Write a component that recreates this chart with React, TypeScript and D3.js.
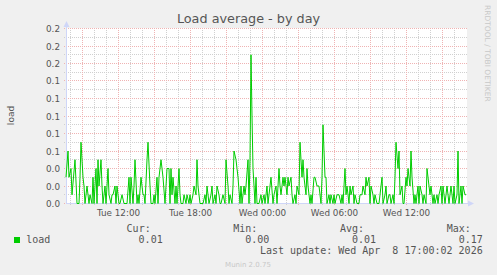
import React from 'react';
import * as d3 from 'd3';

const TITLE = 'Load average - by day';
const Y_LABEL = 'load';
const SERIES_NAME = 'load';
const WATERMARK = 'RRDTOOL / TOBI OETIKER';
const FOOTER = 'Munin 2.0.75';
const LAST_UPDATE = 'Last update: Wed Apr  8 17:00:02 2026';

const STAT_NAMES = ['Cur:', 'Min:', 'Avg:', 'Max:'];
const STAT_VALUES = ['0.01', '0.00', '0.01', '0.17'];

const Y_MAJOR = [0, 0.02, 0.04, 0.06, 0.08, 0.1, 0.12, 0.14, 0.16, 0.18, 0.2];
const Y_MINOR = [0.01, 0.03, 0.05, 0.07, 0.09, 0.11, 0.13, 0.15, 0.17, 0.19];
const X_LABEL_FORMAT = '%a %H:%M';

const START = new Date(2026, 3, 7, 7, 40, 0);
const END = new Date(2026, 3, 8, 17, 0, 0);
const STEP_MS = 5 * 60 * 1000;

// 5-minute sample index since START
const SAMPLE_INDEX = [
  0, 2, 3, 5, 6, 9, 11, 13, 14, 15, 17, 18, 19, 21, 23, 24, 26, 27, 28, 30, 31, 32, 33, 35, 36, 37,
  39, 40, 42, 43, 45, 46, 47, 49, 50, 51, 53, 54, 56, 58, 59, 61, 63, 64, 65, 67, 68, 69, 71, 72, 73, 75, 77, 78, 79,
  81, 82, 84, 85, 87, 88, 89, 91, 92, 93, 95, 96, 97, 99, 100, 101, 103, 104, 105, 106, 107, 109, 110, 111, 113, 114, 115, 117, 118, 120, 121, 123,
  124, 125, 127, 128, 130, 131, 132, 134, 135, 137, 139, 140, 141, 143, 145, 146, 147, 149, 150, 151, 153, 154, 155, 157, 159, 160, 162, 163,
  164, 166, 167, 168, 170, 171, 172, 174, 175, 176, 178, 179, 180, 182, 183, 184, 185, 186, 187, 189, 190, 191, 193, 195, 196, 198, 199, 201, 202, 203,
  205, 207, 208, 210, 211, 213, 214, 215, 217, 218, 219, 221, 222, 223, 225, 226, 227, 229, 230, 231, 233, 234, 236, 237, 238, 240, 241, 242, 244, 245, 246,
  248, 249, 251, 252, 253, 255, 256, 257, 259, 260, 261, 263, 264, 265, 267, 268, 269, 271, 273, 275, 276, 277, 279, 280, 281, 283, 284, 285, 287, 288, 289,
  291, 293, 294, 296, 297, 299, 300, 301, 303, 304, 305, 307, 308, 309, 311, 313, 314, 316, 317, 319, 320, 321, 323, 324, 325, 327, 328, 329, 330,
  332, 333, 334, 336, 337, 338, 340, 341, 342, 344, 345, 346, 348, 349, 350, 352, 353, 354, 356, 357, 358, 360, 361, 363, 364, 365, 367, 368, 369, 371, 372, 373,
  375, 376, 377, 379, 380, 381, 383, 384, 385, 387, 388, 389, 391, 392, 393, 395, 396, 397, 399, 400,
];

const LOAD = [
  0.03, 0.06, 0.03, 0.04, 0.01, 0.05, 0.0, 0.0, 0.03, 0.07, 0.03, 0.02, 0.0, 0.02, 0.0, 0.01, 0.0, 0.03, 0.0, 0.04, 0.0, 0.05, 0.02, 0.05, 0.02, 0.0,
  0.02, 0.0, 0.04, 0.01, 0.0, 0.01, 0.01, 0.02, 0.0, 0.02, 0.0, 0.0, 0.01, 0.0, 0.0, 0.0, 0.03, 0.0, 0.03, 0.0, 0.02, 0.05, 0.0, 0.01, 0.0, 0.03, 0.01, 0.01, 0.0,
  0.05, 0.07, 0.02, 0.0, 0.0, 0.01, 0.0, 0.03, 0.0, 0.03, 0.05, 0.04, 0.03, 0.0, 0.02, 0.04, 0.04, 0.0, 0.04, 0.01, 0.03, 0.0, 0.02, 0.0, 0.04, 0.01, 0.0, 0.0, 0.01, 0.0, 0.01, 0.0,
  0.01, 0.0, 0.01, 0.02, 0.01, 0.05, 0.02, 0.0, 0.0, 0.0, 0.01, 0.0, 0.02, 0.0, 0.01, 0.02, 0.0, 0.01, 0.0, 0.02, 0.01, 0.0, 0.0, 0.01, 0.0, 0.05, 0.02, 0.0,
  0.01, 0.0, 0.02, 0.06, 0.05, 0.04, 0.03, 0.0, 0.02, 0.0, 0.02, 0.01, 0.02, 0.05, 0.0, 0.05, 0.17, 0.1, 0.04, 0.0, 0.03, 0.0, 0.0, 0.01, 0.0, 0.01, 0.0, 0.02, 0.0, 0.01,
  0.03, 0.0, 0.01, 0.02, 0.0, 0.04, 0.02, 0.01, 0.03, 0.02, 0.03, 0.01, 0.03, 0.02, 0.03, 0.01, 0.0, 0.01, 0.0, 0.02, 0.01, 0.07, 0.03, 0.05, 0.03, 0.01, 0.04, 0.02, 0.0, 0.01, 0.0,
  0.03, 0.03, 0.02, 0.02, 0.02, 0.0, 0.03, 0.09, 0.03, 0.03, 0.0, 0.01, 0.0, 0.01, 0.0, 0.01, 0.0, 0.01, 0.01, 0.0, 0.01, 0.0, 0.04, 0.01, 0.02, 0.0, 0.02, 0.01, 0.02, 0.0, 0.01,
  0.0, 0.0, 0.01, 0.01, 0.02, 0.01, 0.03, 0.02, 0.03, 0.0, 0.02, 0.01, 0.0, 0.01, 0.0, 0.0, 0.01, 0.03, 0.0, 0.01, 0.02, 0.0, 0.01, 0.01, 0.0, 0.01, 0.0, 0.03, 0.07,
  0.04, 0.06, 0.01, 0.02, 0.0, 0.0, 0.03, 0.02, 0.04, 0.02, 0.06, 0.03, 0.0, 0.01, 0.0, 0.02, 0.0, 0.02, 0.01, 0.0, 0.01, 0.0, 0.04, 0.02, 0.01, 0.02, 0.0, 0.01, 0.0, 0.01, 0.0, 0.01,
  0.02, 0.0, 0.02, 0.0, 0.01, 0.02, 0.0, 0.01, 0.02, 0.0, 0.02, 0.0, 0.01, 0.06, 0.0, 0.02, 0.0, 0.02, 0.01, 0.01,
];

const W = 497;
const H = 275;
const PLOT = { left: 66, right: 466, top: 28, bottom: 203 };

const FONT_FG = '#555555';
const AXIS_COLOR = '#CFD6F8';
const LINE_COLOR = '#00CC00';
const SANS = 'DejaVu Sans, sans-serif';
const MONO = 'DejaVu Sans Mono, monospace';

export default function App() {
  const x = d3.scaleTime().domain([START, END]).range([PLOT.left, PLOT.right]);
  const y = d3.scaleLinear().domain([0, 0.2]).range([PLOT.bottom, PLOT.top]);
  const snap = (v: number) => Math.round(v) + 0.5;

  const pts: [Date, number][] = SAMPLE_INDEX.map((s, i) => [
    new Date(START.getTime() + s * STEP_MS),
    LOAD[i],
  ]);
  const line = d3
    .line<[Date, number]>()
    .x((d) => x(d[0]))
    .y((d) => y(d[1]) + 0.5);

  const hours = d3.timeHour.every(1)!.range(START, END);
  const major3 = d3.timeHour.every(3)!.range(START, END);
  const labels6 = d3.timeHour.every(6)!.range(START, END);
  const fmt = d3.timeFormat(X_LABEL_FORMAT);
  const yFmt = d3.format('.1f');

  const gx0 = PLOT.left - 2;
  const gx1 = PLOT.right + 1;

  return (
    <svg
      width={W}
      height={H}
      style={{ position: 'absolute', left: 0, top: 0, display: 'block' }}
    >
      <rect x={0} y={0} width={W} height={H} fill="#F0F0F0" />
      <rect
        x={PLOT.left}
        y={PLOT.top}
        width={PLOT.right - PLOT.left + 1}
        height={PLOT.bottom - PLOT.top}
        fill="#FFFFFF"
      />
      {/* minor grid */}
      <g stroke="#D0D0D0" strokeWidth={1} strokeDasharray="1,1" shapeRendering="crispEdges">
        {hours.map((t, i) => (
          <line key={'vm' + i} x1={snap(x(t))} x2={snap(x(t))} y1={PLOT.top} y2={PLOT.bottom + 2} />
        ))}
        {Y_MINOR.map((v, i) => (
          <line key={'hm' + i} x1={gx0} x2={gx1} y1={snap(y(v))} y2={snap(y(v))} />
        ))}
      </g>
      {/* major grid */}
      <g stroke="#EFB3B3" strokeWidth={1} strokeDasharray="1,1" shapeRendering="crispEdges">
        {major3.map((t, i) => (
          <line key={'vM' + i} x1={snap(x(t))} x2={snap(x(t))} y1={PLOT.top} y2={PLOT.bottom + 2} />
        ))}
        {Y_MAJOR.map((v, i) => (
          <line key={'hM' + i} x1={gx0} x2={gx1} y1={snap(y(v))} y2={snap(y(v))} />
        ))}
      </g>
      {/* axes */}
      <g stroke={AXIS_COLOR} strokeWidth={1} shapeRendering="crispEdges">
        <line x1={PLOT.left + 0.5} x2={PLOT.left + 0.5} y1={PLOT.top - 5} y2={PLOT.bottom + 1} />
        <line x1={PLOT.left} x2={PLOT.right + 3} y1={PLOT.bottom + 0.5} y2={PLOT.bottom + 0.5} />
      </g>
      <path
        d={`M${PLOT.left - 2.5},${PLOT.top - 1} L${PLOT.left + 3.5},${PLOT.top - 1} L${PLOT.left + 0.5},${PLOT.top - 7} Z`}
        fill={AXIS_COLOR}
      />
      <path
        d={`M${PLOT.right + 2},${PLOT.bottom - 2.5} L${PLOT.right + 2},${PLOT.bottom + 3.5} L${PLOT.right + 8},${PLOT.bottom + 0.5} Z`}
        fill={AXIS_COLOR}
      />
      {/* data line */}
      <path d={line(pts) || ''} fill="none" stroke={LINE_COLOR} strokeWidth={1} />
      {/* y tick labels */}
      <g fill={FONT_FG} fontFamily={SANS} fontSize={8.8} textAnchor="end">
        {Y_MAJOR.map((v, i) => (
          <text key={'yl' + i} x={PLOT.left - 6} y={snap(y(v)) + 3}>
            {yFmt(v)}
          </text>
        ))}
      </g>
      {/* x tick labels */}
      <g fill={FONT_FG} fontFamily={SANS} fontSize={8.8} textAnchor="middle">
        {labels6.map((t, i) => (
          <text key={'xl' + i} x={snap(x(t))} y={215.5}>
            {fmt(t)}
          </text>
        ))}
      </g>
      {/* title */}
      <text x={248.5} y={22.6} textAnchor="middle" fill={FONT_FG} fontFamily={SANS} fontSize={12.8}>
        {TITLE}
      </text>
      {/* y axis label */}
      <text
        transform={`translate(14, ${(PLOT.top + PLOT.bottom) / 2}) rotate(-90)`}
        textAnchor="middle"
        fill={FONT_FG}
        fontFamily={SANS}
        fontSize={9}
      >
        {Y_LABEL}
      </text>
      {/* watermark */}
      <text
        transform="translate(485, 5) rotate(90)"
        fill="#C8C8C8"
        fontFamily={SANS}
        fontSize={7.5}
      >
        {WATERMARK}
      </text>
      {/* legend */}
      <rect x={14} y={237} width={6} height={6} fill={LINE_COLOR} />
      <g fill={FONT_FG} fontFamily={MONO} fontSize={10} style={{ whiteSpace: 'pre' }}>
        <text x={26.3} y={243}>
          {SERIES_NAME}
        </text>
        {STAT_NAMES.map((n, i) => (
          <text key={'sn' + i} x={150.7 + i * 106.7} y={232} textAnchor="end">
            {n}
          </text>
        ))}
        {STAT_VALUES.map((v, i) => (
          <text key={'sv' + i} x={162.7 + i * 106.7} y={243} textAnchor="end">
            {v}
          </text>
        ))}
        <text x={482.7} y={254} textAnchor="end" xmlSpace="preserve" style={{ whiteSpace: 'pre' }}>
          {LAST_UPDATE}
        </text>
      </g>
      <text x={248} y={267} textAnchor="middle" fill="#C8C8C8" fontFamily={SANS} fontSize={7}>
        {FOOTER}
      </text>
    </svg>
  );
}
